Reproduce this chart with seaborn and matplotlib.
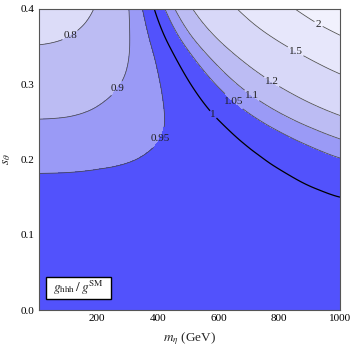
import numpy as np
import matplotlib
matplotlib.use("Agg")
import matplotlib.pyplot as plt
import matplotlib.tri as mtri
from matplotlib.patches import Rectangle
from matplotlib.ticker import MultipleLocator
import seaborn as sns

# g_hhh / g_SM estimated on a grid from the reference contours
m_eta = [10, 100, 200, 300, 400, 500, 600, 700, 800, 900, 1000]
s_theta = [0.0, 0.05, 0.10, 0.15, 0.20, 0.25, 0.30, 0.35, 0.40]
g_ratio = [
    [1.000, 1.000, 1.000, 1.000, 1.000, 1.000, 1.000, 1.000, 1.000, 1.000, 1.000],
    [0.996, 0.996, 0.996, 0.996, 0.996, 0.996, 0.996, 0.996, 0.997, 0.997, 0.997],
    [0.985, 0.985, 0.985, 0.986, 0.986, 0.987, 0.987, 0.988, 0.989, 0.990, 0.992],
    [0.966, 0.966, 0.967, 0.969, 0.971, 0.974, 0.978, 0.983, 0.988, 0.994, 1.000],
    [0.939, 0.940, 0.943, 0.948, 0.956, 0.966, 0.978, 0.992, 1.008, 1.027, 1.047],
    [0.903, 0.905, 0.913, 0.927, 0.945, 0.969, 0.998, 1.033, 1.073, 1.118, 1.168],
    [0.858, 0.863, 0.880, 0.907, 0.946, 0.995, 1.056, 1.128, 1.210, 1.304, 1.409],
    [0.803, 0.813, 0.844, 0.895, 0.966, 1.058, 1.170, 1.303, 1.456, 1.629, 1.823],
    [0.737, 0.754, 0.807, 0.894, 1.015, 1.172, 1.364, 1.590, 1.851, 2.147, 2.478],
]

contour_levels = [0.8, 0.9, 0.95, 1.0, 1.05, 1.1, 1.2, 1.5, 2.0]
fill_levels = [0.5, 0.8, 0.9, 0.95, 1.05, 1.1, 1.2, 1.5, 2.0, 3.5]
band_colors = ["#dcdcf8", "#bcbcf3", "#9a9af6", "#5252fc", "#9a9af6",
               "#bcbcf3", "#d8d8f8", "#e7e7fb", "#f1f1fd"]

# where the level labels sit (data coords)
label_pos = {
    0.8: (120, 0.360), 0.9: (282, 0.290), 0.95: (440, 0.222),
    1.0: (578, 0.258), 1.05: (640, 0.272), 1.1: (726, 0.294),
    1.2: (792, 0.314), 1.5: (863, 0.350), 2.0: (921, 0.374),
}

sns.set_style("ticks")
plt.rcParams["font.family"] = ["Liberation Serif", "DejaVu Serif"]
plt.rcParams["mathtext.fontset"] = "stix"

fig = plt.figure(figsize=(3.54, 3.52), dpi=100)
ax = fig.add_axes([39 / 354, 1 - 310 / 352, 301 / 354, 301 / 352])

# smooth the coarse grid with matplotlib's cubic refiner (in normalised coords)
M, S = np.meshgrid(np.array(m_eta, float), np.array(s_theta, float))
Z = np.array(g_ratio)
nx, ny = len(m_eta), len(s_theta)
tris = []
for j in range(ny - 1):
    for i in range(nx - 1):
        k = j * nx + i
        tris.append([k, k + 1, k + nx])
        tris.append([k + 1, k + nx + 1, k + nx])
tri_n = mtri.Triangulation(M.ravel() / 1000, S.ravel() / 0.4, np.array(tris))
ref_n, z_ref = mtri.UniformTriRefiner(tri_n).refine_field(Z.ravel(), subdiv=4)
tri_ref = mtri.Triangulation(ref_n.x * 1000, ref_n.y * 0.4, ref_n.triangles)

ax.tricontourf(tri_ref, z_ref, levels=fill_levels, colors=band_colors)

# lines: skip the strip along s = 0 where the field sits exactly on 1
tri_line = mtri.Triangulation(tri_ref.x, tri_ref.y, tri_ref.triangles,
                              mask=tri_ref.y[tri_ref.triangles].max(axis=1) < 0.06)

for lev in contour_levels:
    is_one = lev == 1.0
    cs = ax.tricontour(tri_line, z_ref, levels=[lev],
                       colors="black" if is_one else "#4a4a4a",
                       linewidths=0.9 if is_one else 0.55)
    txt = ax.clabel(cs, manual=[label_pos[lev]], inline=True, inline_spacing=2,
                    fmt=lambda v: f"{v:g}", fontsize=8, colors="#202020")
    for t in txt:
        t.set_rotation(0)

ax.set_xlim(10, 1000)
ax.set_ylim(0, 0.4)
ax.set_xticks([200, 400, 600, 800, 1000])
ax.set_yticks([0.0, 0.1, 0.2, 0.3, 0.4])
ax.set_yticklabels(["0.0", "0.1", "0.2", "0.3", "0.4"])
ax.xaxis.set_minor_locator(MultipleLocator(50))
ax.yaxis.set_minor_locator(MultipleLocator(0.02))
ax.tick_params(which="both", direction="in", top=True, right=True,
               labelsize=8, colors="#555555", labelcolor="black", pad=3)
ax.tick_params(which="major", length=4, width=0.6)
ax.tick_params(which="minor", length=2, width=0.5)
for sp in ax.spines.values():
    sp.set_color("#555555")
    sp.set_linewidth(0.8)

ax.set_xlabel(r"$m_{\eta}$ (GeV)", fontsize=9.5, labelpad=5)
ax.set_ylabel(r"$s_{\theta}$", fontsize=9.5, labelpad=6)

# legend box in the lower-left corner
ax.add_patch(Rectangle((7 / 301, 11 / 301), 65 / 301, 22 / 301,
                       transform=ax.transAxes, facecolor="white",
                       edgecolor="black", linewidth=1.0, zorder=5))
ax.text(39.5 / 301, 22 / 301, r"$g_{\rm hhh}\,/\,g^{\rm SM}$", transform=ax.transAxes,
        ha="center", va="center", fontsize=9.5, zorder=6)

fig.savefig("out.png", dpi=100)
